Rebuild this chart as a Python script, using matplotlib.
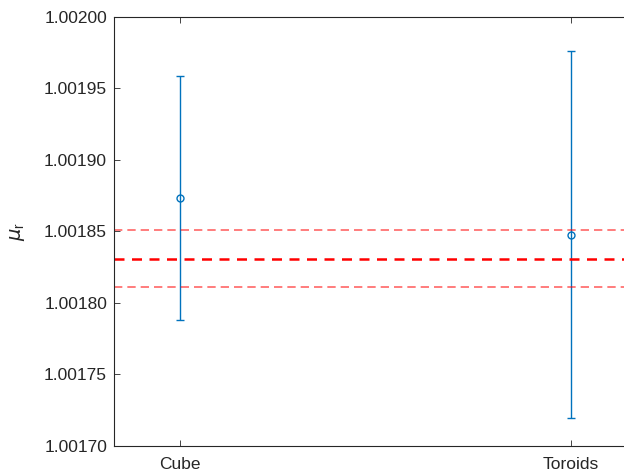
import numpy as np
import matplotlib.pyplot as plt

plt.rcParams['font.family'] = ['Liberation Sans', 'DejaVu Sans']

# Data
samples = ['Cube', 'Toroids']
mu_mean = [1.0018734, 1.0018476]
mu_err = [0.0000853, 0.0001283]
ref_value = 1.001831
ref_band = 0.000020

blue = '#0072BD'
axis_color = '#262626'

fig = plt.figure(figsize=(6.24, 4.75), dpi=100)
ax = fig.add_axes([0.1827, 0.0611, 0.838, 0.9032])

x = np.arange(1, len(samples) + 1)
ax.errorbar(x, mu_mean, yerr=mu_err, fmt='o', color=blue, mfc='none',
            ms=5, mew=1, elinewidth=1, capsize=3, capthick=1)

ax.axhline(ref_value, color='red', ls=(0, (4, 3)), lw=1.8)
ax.axhline(ref_value + ref_band, color='red', alpha=0.6, ls=(0, (5, 3)), lw=1.2)
ax.axhline(ref_value - ref_band, color='red', alpha=0.6, ls=(0, (5, 3)), lw=1.2)

ax.set_xlim(0.831, 2.169)
ax.set_ylim(1.0017, 1.0020)
ax.set_xticks(x)
ax.set_xticklabels(samples)
yt = np.arange(1.0017, 1.00201, 0.00005)
ax.set_yticks(yt)
ax.set_yticklabels([f'{v:.5f}' for v in yt])
ax.tick_params(direction='in', length=4, width=0.6, colors=axis_color,
               labelsize=12.5, top=True, right=True, pad=5)
ax.tick_params(axis='x', pad=8)
for s in ax.spines.values():
    s.set_color(axis_color)
    s.set_linewidth(0.8)

ax.set_ylabel(r'$\mu_\mathregular{r}$', fontsize=14, color=axis_color)
ax.yaxis.set_label_coords(-0.166, 0.5)

fig.savefig('out.png', dpi=100)
